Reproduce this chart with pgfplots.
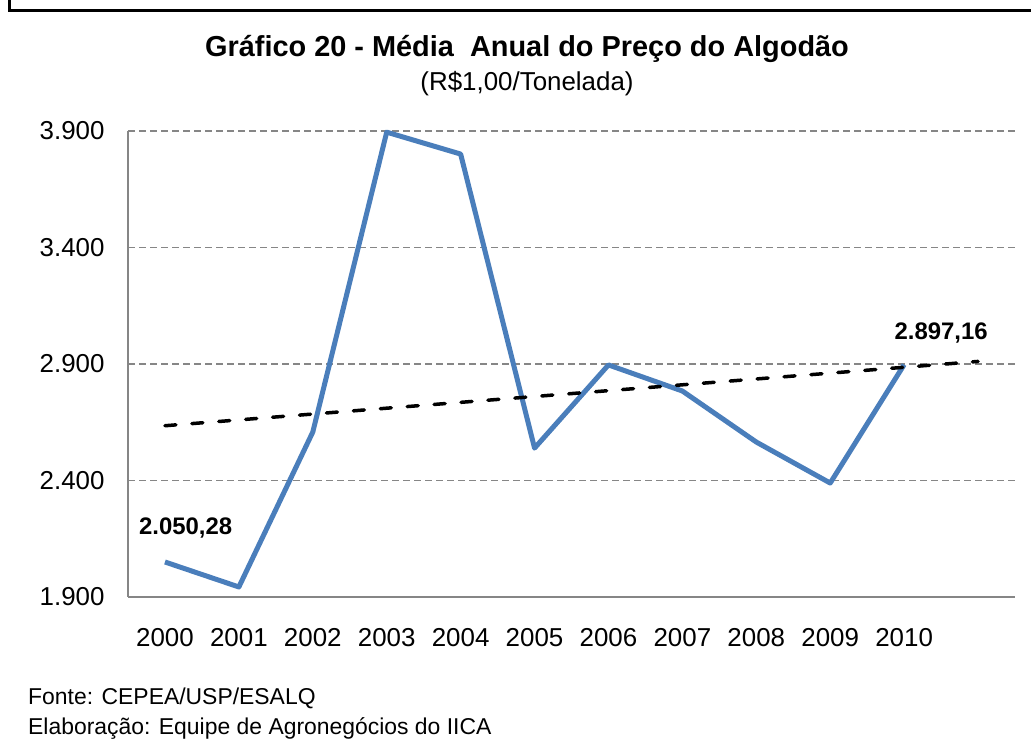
\documentclass[border=0pt]{standalone}
\usepackage{pgfplots}
\pgfplotsset{compat=1.18}
\usepackage{fontspec}
\setmainfont{Liberation Sans}
\definecolor{excelblue}{RGB}{74,126,187}
\definecolor{gridgray}{RGB}{134,134,134}
\begin{document}
\begin{tikzpicture}[x=1bp,y=1bp]
\path[use as bounding box] (0,0) rectangle (1031,753);
% outer frame (top and left visible)
\draw[line width=3bp,black] (9,753) -- (9,742) -- (1031,742);
\node[font=\fontsize{29}{33}\selectfont\bfseries] at (527,704) {Gráfico 20 - Média\ \ Anual do Preço do Algodão};
\node[font=\fontsize{26}{30}\selectfont] at (527,669) {(R\$1,00/Tonelada)};
\node[font=\fontsize{23}{27}\selectfont,anchor=base west,inner sep=0pt] at (28,48) {Fonte: CEPEA/USP/ESALQ};
\node[font=\fontsize{23}{27}\selectfont,anchor=base west,inner sep=0pt] at (28,18) {Elaboração: Equipe de Agronegócios do IICA};
\begin{axis}[
  at={(128bp,156bp)}, anchor=south west,
  scale only axis, width=887bp, height=466bp,
  xmin=-0.5, xmax=11.5, ymin=1900, ymax=3900,
  xtick={0,...,10},
  xticklabels={2000,2001,2002,2003,2004,2005,2006,2007,2008,2009,2010},
  ytick={1900,2400,2900,3400,3900},
  yticklabels={1.900,2.400,2.900,3.400,3.900},
  major tick length=0pt,
  axis x line*=bottom, axis y line*=left,
  axis line style={gridgray, line width=2bp, -},
  ymajorgrids,
  grid style={gridgray, line width=1.5bp, dash pattern=on 7bp off 4bp},
  tick label style={font=\fontsize{26}{30}\selectfont, black},
  xticklabel style={yshift=-28bp},
  yticklabel style={xshift=-20bp},
  clip=false,
]
\addplot[excelblue, line width=5bp, line join=round] coordinates {
  (0,2050.28) (1,1943) (2,2608) (3,3895) (4,3801) (5,2539)
  (6,2896) (7,2784) (8,2565) (9,2389) (10,2897.16)
};
\addplot[black, line width=3.5bp, line cap=round, dash pattern=on 11bp off 16bp] coordinates {
  (0,2635) (11,2911)
};
\node[font=\fontsize{24}{28}\selectfont\bfseries] at (axis cs:0.28,2198) {2.050,28};
\node[font=\fontsize{24}{28}\selectfont\bfseries] at (axis cs:10.5,3031) {2.897,16};
\end{axis}
\end{tikzpicture}
\end{document}
